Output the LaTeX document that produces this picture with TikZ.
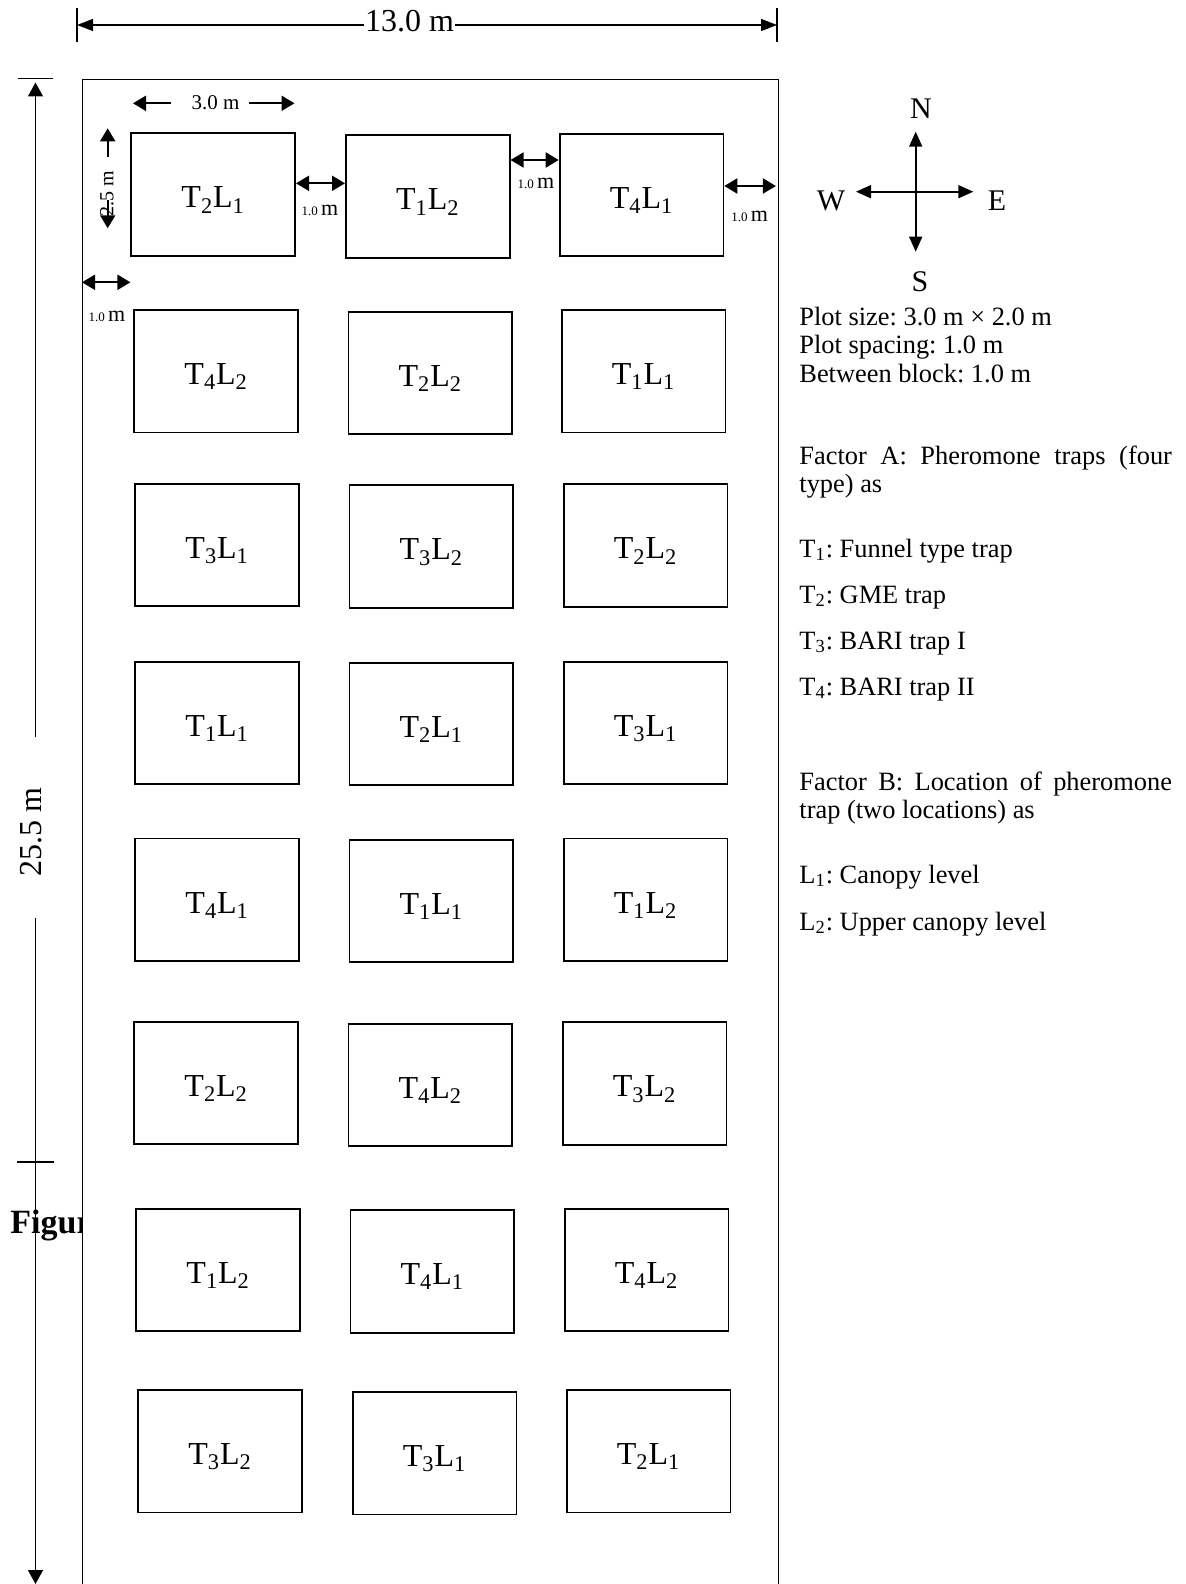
\documentclass[tikz,border=0pt]{standalone}
\usepackage{fontspec}
\setmainfont{Liberation Serif}
\usetikzlibrary{arrows.meta,calc}
\frenchspacing
\newcommand{\TL}[2]{T\textsubscript{#1}L\textsubscript{#2}}
\newcommand{\onem}{{\fontsize{6.5}{7}\selectfont 1.0}\,{\fontsize{11}{12}\selectfont m}}
\begin{document}
\begin{tikzpicture}[x=0.5pt,y=-0.5pt,
  plotbox/.style={draw,line width=0.9pt,minimum width=81.9pt,minimum height=61.2pt,inner sep=0pt,
    font=\fontsize{16}{19}\selectfont,text height=13.4pt,text depth=0pt},
  dimarr/.style={line width=1pt,{Triangle[length=6.5pt,width=7.5pt]}-{Triangle[length=6.5pt,width=7.5pt]}},
  onearr/.style={line width=1pt,-{Triangle[length=6.5pt,width=7.5pt]}},
  bigarr/.style={line width=0.6pt,-{Triangle[length=8pt,width=6pt]}},
  sidearr/.style={line width=0.7pt,-{Triangle[length=7pt,width=7.5pt]}},
  cmparr/.style={line width=0.8pt,-{Triangle[length=7.5pt,width=6.5pt]}},
  txt/.style={font=\fontsize{13.2}{14}\selectfont\frenchspacing,inner sep=0pt,anchor=base west},
  cmptxt/.style={font=\fontsize{15}{18}\selectfont,inner sep=0pt,anchor=base},
  onelbl/.style={inner sep=0pt,anchor=base},
  tick/.style={line width=0.7pt}
]
\useasboundingbox (0,0) rectangle (1186,1584);

% caption fragment hidden behind the field
\node[anchor=base west,font=\bfseries\fontsize{17}{20}\selectfont,inner sep=0pt] (fig) at (10,1233) {Figure};

% field
\node[draw,fill=white,line width=0.7pt,anchor=north west,minimum width=347.75pt,minimum height=760.5pt,inner sep=0pt] (field) at (82,79) {};

% plots
\node[plotbox] (b11) at (213.2,194.5) {\TL{2}{1}};
\node[plotbox] (b12) at (427.8,196.5) {\TL{1}{2}};
\node[plotbox] (b13) at (641.5,195.0) {\TL{4}{1}};
\node[plotbox] (b21) at (216.2,371.3) {\TL{4}{2}};
\node[plotbox] (b22) at (430.4,372.8) {\TL{2}{2}};
\node[plotbox] (b23) at (643.5,371.3) {\TL{1}{1}};
\node[plotbox] (b31) at (217.2,545.0) {\TL{3}{1}};
\node[plotbox] (b32) at (431.4,546.5) {\TL{3}{2}};
\node[plotbox] (b33) at (645.6,545.5) {\TL{2}{2}};
\node[plotbox] (b41) at (217.2,722.8) {\TL{1}{1}};
\node[plotbox] (b42) at (431.4,723.8) {\TL{2}{1}};
\node[plotbox] (b43) at (645.6,722.8) {\TL{3}{1}};
\node[plotbox] (b51) at (217.2,899.6) {\TL{4}{1}};
\node[plotbox] (b52) at (431.4,901.1) {\TL{1}{1}};
\node[plotbox] (b53) at (645.6,899.6) {\TL{1}{2}};
\node[plotbox] (b61) at (216.2,1083.0) {\TL{2}{2}};
\node[plotbox] (b62) at (430.4,1085.0) {\TL{4}{2}};
\node[plotbox] (b63) at (644.5,1083.5) {\TL{3}{2}};
\node[plotbox] (b71) at (218.2,1269.9) {\TL{1}{2}};
\node[plotbox] (b72) at (432.4,1271.4) {\TL{4}{1}};
\node[plotbox] (b73) at (646.6,1269.9) {\TL{4}{2}};
\node[plotbox] (b81) at (220.0,1451.2) {\TL{3}{2}};
\node[plotbox] (b82) at (434.6,1453.2) {\TL{3}{1}};
\node[plotbox] (b83) at (648.5,1451.2) {\TL{2}{1}};

% spacing arrows
\coordinate (ya) at (0,183.3);
\coordinate (yb) at (0,160);
\coordinate (yc) at (0,186);
\coordinate (yd) at (0,282.3);
\draw[dimarr] (b11.east |- ya) -- (b12.west |- ya);
\draw[dimarr] (b12.east |- yb) -- (b13.west |- yb);
\draw[dimarr] (b13.east |- yc) -- ([xshift=-1.5pt]field.east |- yc);
\draw[dimarr] (field.west |- yd) -- (b11.west |- yd);
\node[onelbl] (s1) at (320,215) {\onem};
\node[onelbl] (s2) at (536,188.3) {\onem};
\node[onelbl] (s3) at (749.6,221.7) {\onem};
\node[onelbl] (s4) at (107,321.7) {\onem};

% 3.0 m
\node[onelbl,font=\fontsize{10.5}{12}\selectfont] (w30) at (215.6,110) {3.0 m};
\coordinate (w30a) at (171,103.3);
\coordinate (w30b) at (133,103.3);
\coordinate (w30c) at (249,103.3);
\coordinate (w30d) at (294.5,103.3);
\draw[onearr] (w30a) -- (w30b);
\draw[onearr] (w30c) -- (w30d);

% 2.5 m
\node[onelbl,rotate=90,font=\fontsize{10}{12}\selectfont] (h25) at (113.3,194) {2.5 m};
\coordinate (h25a) at (107.7,156.7);
\coordinate (h25b) at (107.7,128.3);
\coordinate (h25c) at (107.7,200);
\coordinate (h25d) at (107.7,228.3);
\draw[onearr] (h25a) -- (h25b);
\draw[onearr] (h25c) -- (h25d);

% 13.0 m top dimension
\coordinate (tl) at (77,25);
\coordinate (tr) at (777,25);
\draw[tick] (77,8) -- (77,42);
\draw[tick] (777,8) -- (777,42);
\node[font=\fontsize{16}{19}\selectfont,inner sep=0.5pt,anchor=base] (w13) at (409.5,31.7) {13.0 m};
\draw[bigarr] (w13.west |- tl) -- (tl);
\draw[bigarr] (w13.east |- tr) -- (tr);

% 25.5 m left dimension
\draw[tick] (18,78.3) -- (53,78.3);
\draw[tick] (17,1162) -- (54,1162);
\node[rotate=90,anchor=base,font=\fontsize{16}{19}\selectfont,inner sep=0pt] (h255) at (41.7,832.5) {25.5 m};
\coordinate (lu) at (35.5,737);
\coordinate (lt) at (35.5,82.5);
\coordinate (ld) at (35.5,918);
\coordinate (lb) at (35.5,1584);
\draw[sidearr] (lu) -- (lt);
\draw[sidearr] (ld) -- (lb);

% compass
\coordinate (cc) at (915.7,191.7);
\coordinate (cn) at (915.7,131.7);
\coordinate (cs) at (915.7,251.7);
\coordinate (cw) at (856,191.7);
\coordinate (ce) at (973.3,191.7);
\draw[cmparr] (cc) -- (cn);
\draw[cmparr] (cc) -- (cs);
\draw[cmparr] (cc) -- (cw);
\draw[cmparr] (cc) -- (ce);
\node[cmptxt] (nN) at (921,118.3) {N};
\node[cmptxt] (nS) at (920,291.7) {S};
\node[cmptxt] (nW) at (831,210) {W};
\node[cmptxt] (nE) at (997,210) {E};

% legend
\node[txt] (t1) at (799,325) {Plot size: 3.0 m × 2.0 m};
\node[txt] (t2) at (799,353.5) {Plot spacing: 1.0 m};
\node[txt] (t3) at (799,382) {Between block: 1.0 m};
\node[txt] (t4) at (799,464) {\makebox[186.3pt][s]{Factor A: Pheromone traps (four}};
\node[txt] (t5) at (799,492) {type) as};
\node[txt] (t6) at (799,557) {T\textsubscript{1}: Funnel type trap};
\node[txt] (t7) at (799,603) {T\textsubscript{2}: GME trap};
\node[txt] (t8) at (799,649) {T\textsubscript{3}: BARI trap I};
\node[txt] (t9) at (799,695) {T\textsubscript{4}: BARI trap II};
\node[txt] (t10) at (799,790) {\makebox[186.3pt][s]{Factor B: Location of pheromone}};
\node[txt] (t11) at (799,818) {trap (two locations) as};
\node[txt] (t12) at (799,883) {L\textsubscript{1}: Canopy level};
\node[txt] (t13) at (799,930) {L\textsubscript{2}: Upper canopy level};
\end{tikzpicture}
\end{document}
